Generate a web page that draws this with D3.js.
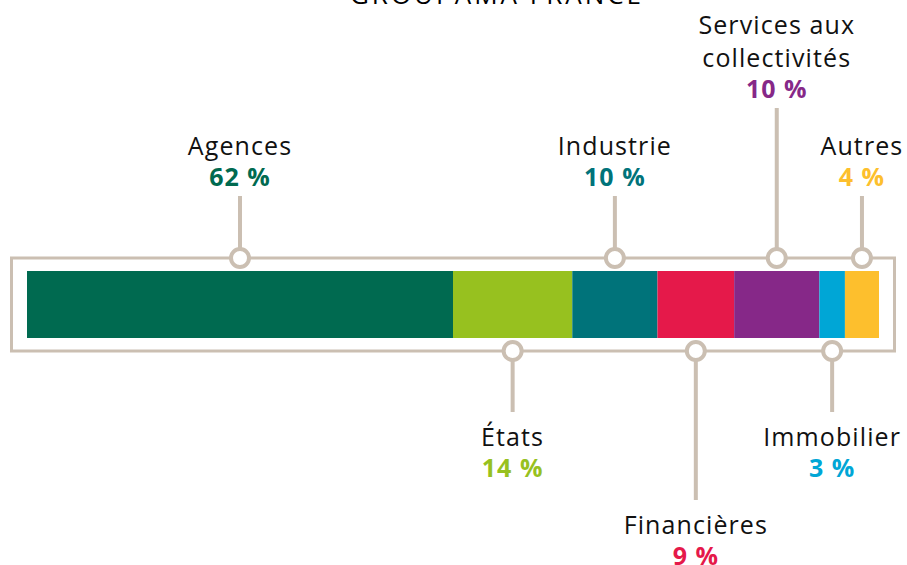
<!DOCTYPE html>
<html><head><meta charset="utf-8">
<script src="https://cdn.jsdelivr.net/npm/d3@7"></script>
<style>body{margin:0;background:#fff}svg{display:block}</style>
</head><body>
<svg id="c" width="907" height="565"></svg>
<script>
const title = "GROUPAMA FRANCE";
const categories = ["Agences","États","Industrie","Financières","Services aux collectivités","Immobilier","Autres"];
const labelLines = [["Agences"],["États"],["Industrie"],["Financières"],["Services aux","collectivités"],["Immobilier"],["Autres"]];
const shares = [62,14,10,9,10,3,4];          // percentages shown in labels
const barShares = [50,14,10,9,10,3,4];       // widths as drawn in the bar
const colors = ["#006a50","#97c11f","#00737a","#e5194a","#862888","#00a6d6","#fdbf2d"];
const sides = ["top","bottom","top","bottom","top","bottom","top"];
const leaderEnd = [196,412,196,500,108,412,196];

const svg = d3.select("#c");
const font = "'Open Sans', Lato, sans-serif";
const frameCol = "#cbbfb2";
const total = d3.sum(barShares);
const x = d3.scaleLinear().domain([0,total]).range([27,879]);
const cum = d3.cumsum(barShares);
const data = categories.map((c,i)=>({c,i,start:cum[i]-barShares[i],end:cum[i]}));
const barY=271, barH=67, frameTop=258, frameBot=351;

svg.append("text").attr("x",497).attr("y",4).attr("text-anchor","middle")
  .attr("font-family",font).attr("font-size",26).attr("font-weight",500).attr("letter-spacing",3).text(title);

svg.append("rect").attr("x",11.5).attr("y",frameTop).attr("width",883).attr("height",frameBot-frameTop)
  .attr("fill","none").attr("stroke",frameCol).attr("stroke-width",3);

svg.selectAll("rect.seg").data(data).join("rect").attr("class","seg")
  .attr("x",d=>x(d.start)).attr("y",barY).attr("width",d=>x(d.end)-x(d.start)).attr("height",barH)
  .attr("fill",d=>colors[d.i]);

const g = svg.selectAll("g.lab").data(data).join("g").attr("class","lab");
g.each(function(d){
  const cx = (x(d.start)+x(d.end))/2;
  const top = sides[d.i]==="top";
  const cy = top?frameTop:frameBot;
  const sel = d3.select(this);
  sel.append("line").attr("x1",cx).attr("x2",cx)
    .attr("y1",top?cy-10:cy+10).attr("y2",leaderEnd[d.i])
    .attr("stroke",frameCol).attr("stroke-width",4);
  sel.append("circle").attr("cx",cx).attr("cy",cy).attr("r",9)
    .attr("fill","#fff").attr("stroke",frameCol).attr("stroke-width",4);
  const lines = labelLines[d.i];
  const lh = 33, vgap = 31;
  let base;
  if(top){ base = leaderEnd[d.i]-10 - vgap - (lines.length-1)*lh; }
  else { base = leaderEnd[d.i]+34; }
  lines.forEach((t,k)=>{
    sel.append("text").attr("x",cx).attr("y",base+k*lh).attr("text-anchor","middle")
      .attr("font-family",font).attr("font-size",25).attr("letter-spacing",1.1).attr("fill","#111").text(t);
  });
  sel.append("text").attr("x",cx).attr("y",base+(lines.length-1)*lh+vgap).attr("text-anchor","middle")
    .attr("font-family",font).attr("font-size",25).attr("font-weight",700).attr("letter-spacing",1).attr("fill",colors[d.i])
    .text(shares[d.i]+" %");
});
</script>
</body></html>
